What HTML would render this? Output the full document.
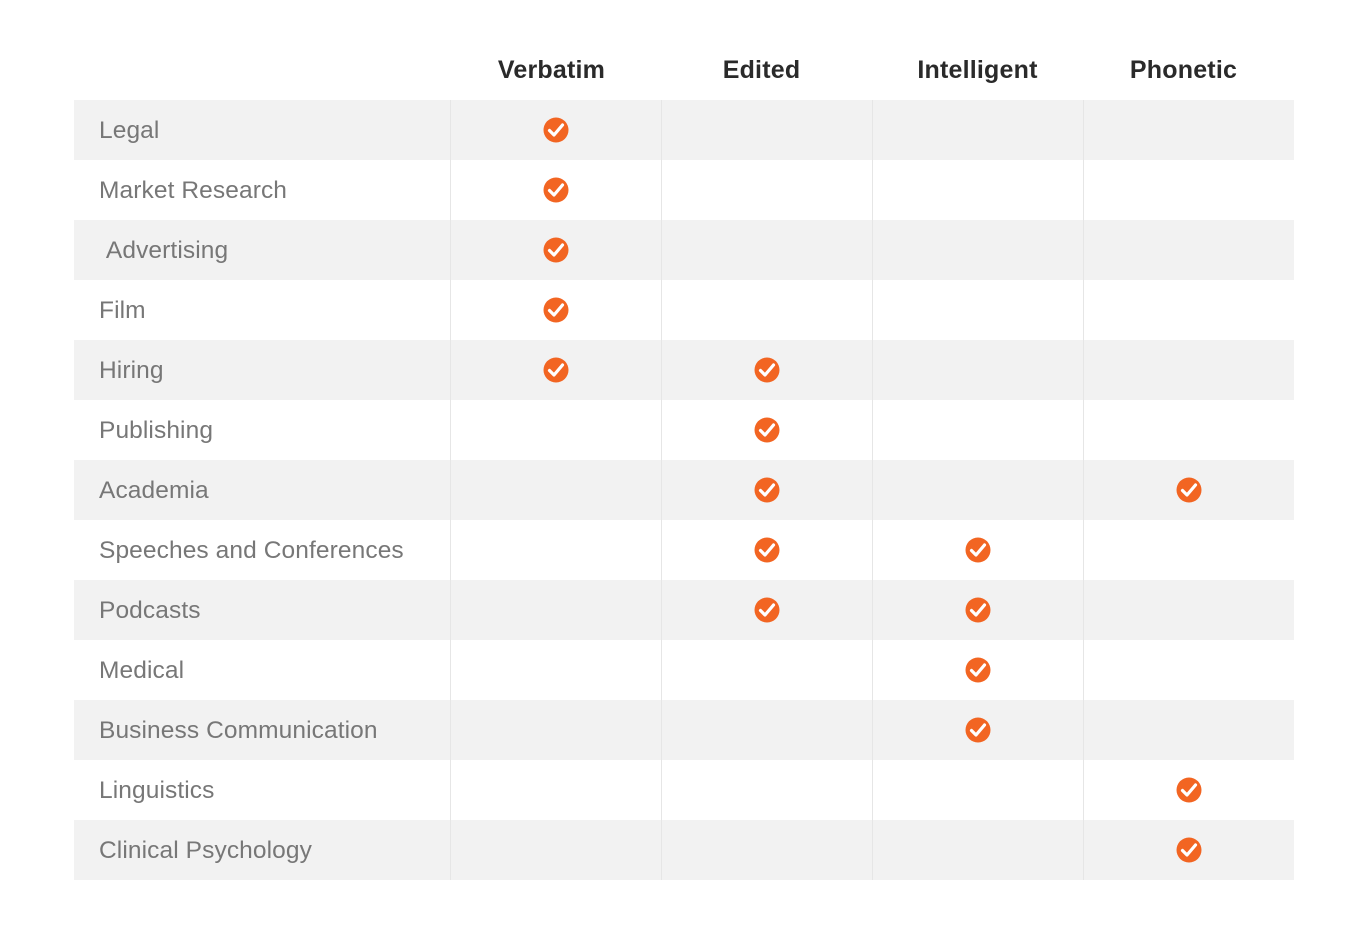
<!DOCTYPE html>
<html><head><style>
body{margin:0;width:1368px;height:940px;background:#fff;font-family:"Liberation Sans",sans-serif;position:relative;overflow:hidden}
.h{position:absolute;top:56px;font-weight:bold;font-size:25px;color:#2a2a2a;text-align:center;width:211px;letter-spacing:0.2px}
.r{position:absolute;left:74px;width:1220px;height:60px}
.r.g{background:#f2f2f2}
.l{position:absolute;left:25px;top:1px;line-height:60px;font-size:24.5px;color:#777;letter-spacing:0.1px}
.v{position:absolute;top:100px;height:780px;width:1px;background:#e6e6e6}
</style></head><body>
<div class="h" style="left:446px">Verbatim</div>
<div class="h" style="left:656px">Edited</div>
<div class="h" style="left:872px">Intelligent</div>
<div class="h" style="left:1078px">Phonetic</div>
<div class="r g" style="top:100px"><span class="l">Legal</span></div>
<div class="r" style="top:160px"><span class="l">Market Research</span></div>
<div class="r g" style="top:220px"><span class="l">&nbsp;Advertising</span></div>
<div class="r" style="top:280px"><span class="l">Film</span></div>
<div class="r g" style="top:340px"><span class="l">Hiring</span></div>
<div class="r" style="top:400px"><span class="l">Publishing</span></div>
<div class="r g" style="top:460px"><span class="l">Academia</span></div>
<div class="r" style="top:520px"><span class="l">Speeches and Conferences</span></div>
<div class="r g" style="top:580px"><span class="l">Podcasts</span></div>
<div class="r" style="top:640px"><span class="l">Medical</span></div>
<div class="r g" style="top:700px"><span class="l">Business Communication</span></div>
<div class="r" style="top:760px"><span class="l">Linguistics</span></div>
<div class="r g" style="top:820px"><span class="l">Clinical Psychology</span></div>
<div class="v" style="left:450px"></div>
<div class="v" style="left:661px"></div>
<div class="v" style="left:872px"></div>
<div class="v" style="left:1083px"></div>
<svg width="1368" height="940" style="position:absolute;left:0;top:0">
<defs><g id="k"><circle r="12.5" fill="#f26522"/><path d="M-6.5,0.5 L-2,5 L6.5,-5" stroke="#fff" stroke-width="3.2" fill="none" stroke-linecap="round" stroke-linejoin="round"/></g></defs>
<use href="#k" x="556" y="130"/><use href="#k" x="556" y="190"/><use href="#k" x="556" y="250"/><use href="#k" x="556" y="310"/><use href="#k" x="556" y="370"/>
<use href="#k" x="767" y="370"/><use href="#k" x="767" y="430"/><use href="#k" x="767" y="490"/><use href="#k" x="767" y="550"/><use href="#k" x="767" y="610"/>
<use href="#k" x="978" y="550"/><use href="#k" x="978" y="610"/><use href="#k" x="978" y="670"/><use href="#k" x="978" y="730"/>
<use href="#k" x="1189" y="490"/><use href="#k" x="1189" y="790"/><use href="#k" x="1189" y="850"/>
</svg>
</body></html>
